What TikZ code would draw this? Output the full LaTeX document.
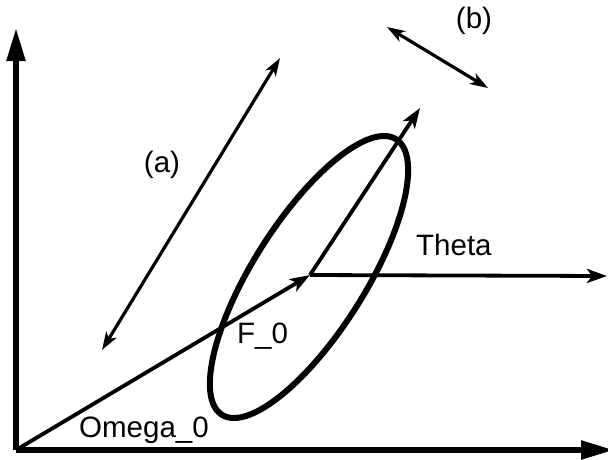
\documentclass[tikz,border=0pt]{standalone}
\usepackage{fontspec}
\setmainfont{Liberation Sans}
\usetikzlibrary{arrows.meta}
\begin{document}
\begin{tikzpicture}[x=1pt,y=-1pt,
  axis/.style={line width=5.5pt,-{Triangle[length=33pt,width=18pt]}},
  vec/.style={line width=3.8pt,-{Stealth[length=20pt,width=14pt,inset=5pt]}},
  dbl/.style={line width=3.2pt,{Stealth[length=18pt,width=12pt,inset=5pt]}-{Stealth[length=18pt,width=12pt,inset=5pt]}},
  lbl/.style={inner sep=0pt,font=\fontsize{29.5}{35}\selectfont}]
\useasboundingbox (0,0) rectangle (608,459);
\coordinate (O) at (16,450);
\coordinate (Y) at (16,28);
\coordinate (X) at (614,450);
\coordinate (P) at (310,275);
\coordinate (T) at (607,276);
\coordinate (U) at (420,108);
\coordinate (a1) at (102,350);
\coordinate (a2) at (280,58);
\coordinate (b1) at (387,27);
\coordinate (b2) at (488,88);
\draw[line width=6pt,rotate around={57.7:(309,277)}] (309,277) ellipse [x radius=163, y radius=56];
\draw[axis] (O) -- (Y);
\draw[axis] (O) -- (X);
\draw[vec] (O) -- (P);
\draw[vec] (P) -- (T);
\draw[vec] (P) -- (U);
\draw[dbl] (a1) -- (a2);
\draw[dbl] (b1) -- (b2);
\node[lbl,anchor=base] (la) at (162,172) {(a)};
\node[lbl,anchor=base] (lb) at (474,28) {(b)};
\node[lbl,anchor=base west] (lt) at (416,255) {Theta};
\node[lbl,anchor=base west] (lf) at (237,343) {F\_0};
\node[lbl,anchor=base west] (lo) at (79,437) {Omega\_0};
\end{tikzpicture}
\end{document}
